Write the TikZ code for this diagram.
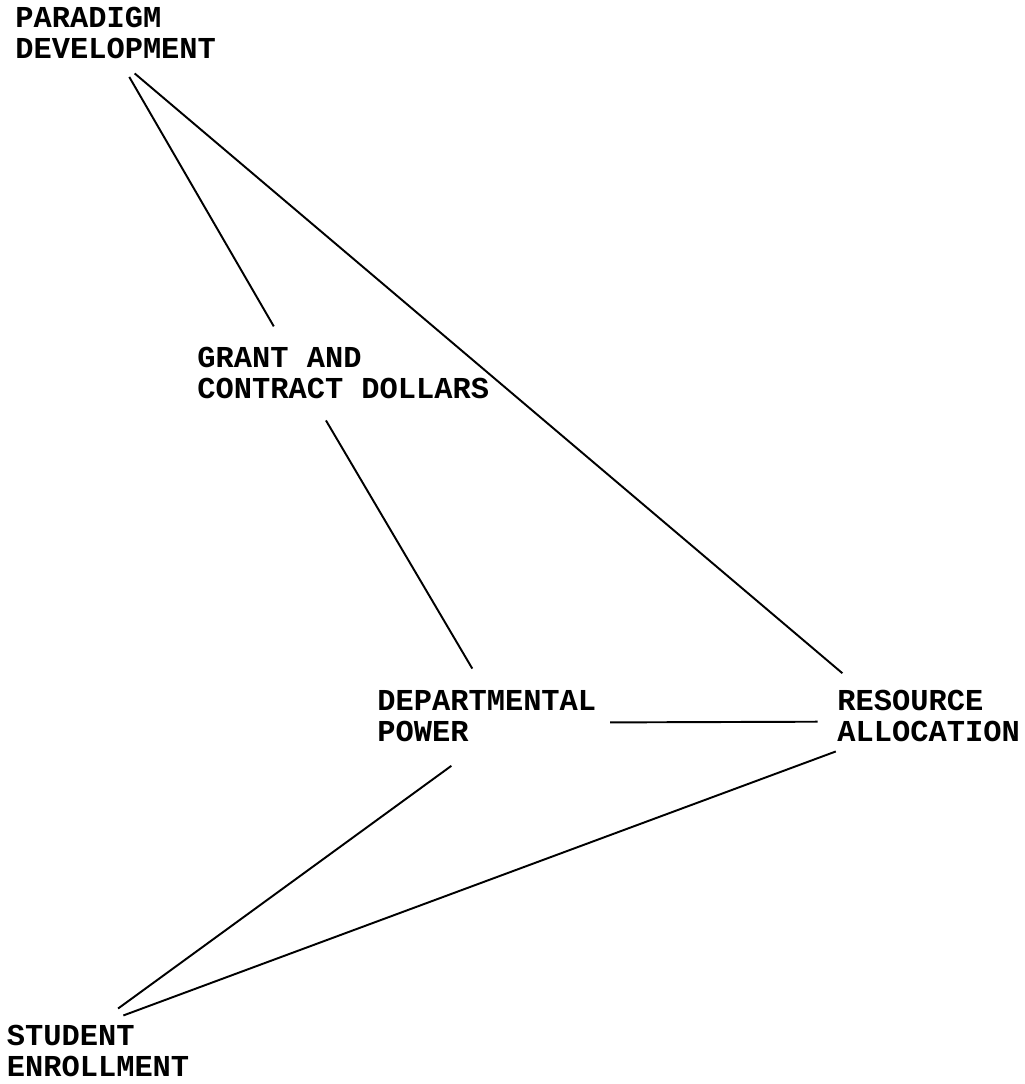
\documentclass[tikz,border=0pt]{standalone}
\usepackage{fontspec}
\newfontfamily\typefont{Liberation Mono}
\begin{document}
\begin{tikzpicture}[x=0.02cm,y=-0.02cm,
		    	concept/.style={anchor=west,inner sep=0pt,align=left,font=\typefont\bfseries\fontsize{17.3}{17.4}\selectfont},
		    	link/.style={line width=1.1pt}]
		    	\useasboundingbox (0,0) rectangle (1024,1084);
		    	\node[concept] (PD) at (15,33) {PARADIGM\\DEVELOPMENT};
		    	\node[concept] (GC) at (197,373) {GRANT AND\\CONTRACT DOLLARS};
		    	\node[concept] (DP) at (377,716) {DEPARTMENTAL\\POWER};
		    	\node[concept] (RA) at (837,716) {RESOURCE\\ALLOCATION};
		    	\node[concept] (SE) at (6.5,1051) {STUDENT\\ENROLLMENT};
		    	
		    	\draw[link] ([shift={(13.6,18)}]PD.south)--([shift={(-69.5,-20.7)}]GC.north);
		    	\draw[link] ([shift={(19,14.5)}]PD.south)--([shift={(5.4,-16.8)}]RA.north west);
		    	\draw[link] ([shift={(-17.3,21.5)}]GC.south)--([shift={(-14.5,-21.6)}]DP.north);
		    	\draw[link] ([shift={(13.6,6.4)}]DP.east)--([shift={(-19.4,5.7)}]RA.west);
		    	\draw[link] ([shift={(-35.4,24)}]DP.south)--([shift={(20,-16.5)}]SE.north);
		    	\draw[link] ([shift={(-1.2,9.5)}]RA.south west)--([shift={(25.3,-9.6)}]SE.north);
		    \end{tikzpicture}
\end{document}
